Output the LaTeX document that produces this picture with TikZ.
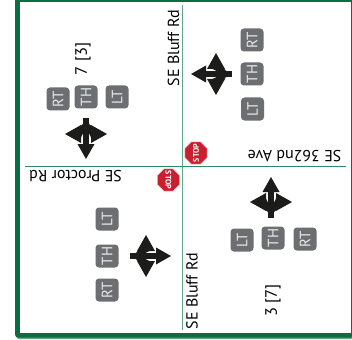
\documentclass[tikz,border=0pt]{standalone}
\usepackage{fontspec}
\setmainfont{PT Sans}
\usetikzlibrary{shapes.geometric}

\definecolor{colFrame}{HTML}{0B6E42}
\definecolor{colRoadV}{HTML}{5FA883}
\definecolor{colRoadH}{HTML}{2E8B5E}
\definecolor{colBadge}{HTML}{6D6E71}
\definecolor{colStop}{HTML}{C9202F}
\definecolor{colArrow}{HTML}{1C1C1A}

\tikzset{
  roadname/.style={font=\fontsize{16}{16}\selectfont, text=black, inner sep=0pt},
  volume/.style={font=\fontsize{16.5}{16.5}\selectfont, text=black, inner sep=0pt, rotate=90},
  badge/.style={fill=colBadge, rounded corners=3.5pt, minimum size=23pt, inner sep=0pt,
    text=white!85!colBadge, font=\fontsize{15}{15}\selectfont, rotate=90},
  stopsign/.style={regular polygon, regular polygon sides=8, fill=colStop, draw=white!75!colStop,
    line width=0.5pt, minimum size=24pt, inner sep=-4pt, text=white,
    font=\bfseries\fontsize{8}{8}\selectfont},
  pics/moves/.style={code={
    % through arrow
    \fill[colArrow] (41,0) -- (26,-8.5) -- (26,8.5) -- cycle;
    \fill[colArrow] (0,-2.6) rectangle (30,2.6);
    % side arrows
    \fill[colArrow] (16,-21) -- (7,-5) -- (25,-5) -- cycle;
    \fill[colArrow] (16,21) -- (7,5) -- (25,5) -- cycle;
    \fill[colArrow] (8,-5.5) -- (21,-5.5) .. controls (17,-4) and (15,-3) .. (14,-2) -- (4,-2) .. controls (6,-3) and (7,-4) .. cycle;
    \fill[colArrow] (8,5.5) -- (21,5.5) .. controls (17,4) and (15,3) .. (14,2) -- (4,2) .. controls (6,3) and (7,4) .. cycle;
  }}
}

\begin{document}
\begin{tikzpicture}[x=1pt, y=-1pt]
\useasboundingbox (0,0) rectangle (352,339);

% Frame
\fill[colRoadV, rounded corners=3pt] (16,-3) rectangle (354,339);
\fill[colFrame, rounded corners=3pt] (15,-3) rectangle (354,337.5);
\fill[white] (20,2.5) rectangle (350.5,333);

% Roads
\coordinate (roadN) at (182.7,5);
\coordinate (roadS) at (182.7,330);
\coordinate (roadW) at (25,166);
\coordinate (roadE) at (346,166);
\draw[colRoadV, line width=1.5pt] (roadN) -- (roadS);
\draw[colRoadH, line width=1pt] (roadW) -- (roadE);

% Road names
\node[roadname, rotate=90] (bluffN) at (173.5,48) {SE Bluff Rd};
\node[roadname, rotate=90] (bluffS) at (192,291) {SE Bluff Rd};
\node[roadname, rotate=180] (ave362) at (294.5,156.5) {SE 362nd Ave};
\node[roadname, rotate=180] (proctor) at (75.5,176.5) {SE Proctor Rd};

% Stop signs
\node[stopsign, rotate=90] (stopE) at (196,153) {STOP};
\node[stopsign, rotate=-90] (stopW) at (168.5,180) {STOP};

% North approach
\node[volume] (volN) at (83,59) {7 [3]};
\node[badge] (rtN) at (58,99) {RT};
\node[badge] (thN) at (86,97) {TH};
\node[badge] (ltN) at (117,97) {LT};
\pic[rotate=-90] (movesN) at (86,118) {moves};

% East approach
\node[badge] (rtE) at (252,40) {RT};
\node[badge] (thE) at (252,74) {TH};
\node[badge] (ltE) at (252.5,109) {LT};
\pic[rotate=180] (movesE) at (232,74) {moves};

% West approach
\node[badge] (ltW) at (107,219) {LT};
\node[badge] (thW) at (107,256) {TH};
\node[badge] (rtW) at (107,290) {RT};
\pic (movesW) at (130,256) {moves};

% South approach
\node[volume] (volS) at (273,300.5) {3 [7]};
\node[badge] (ltS) at (242,240) {LT};
\node[badge] (thS) at (273,238) {TH};
\node[badge] (rtS) at (305,239) {RT};
\pic[rotate=90] (movesS) at (271,218) {moves};
\end{tikzpicture}
\end{document}
